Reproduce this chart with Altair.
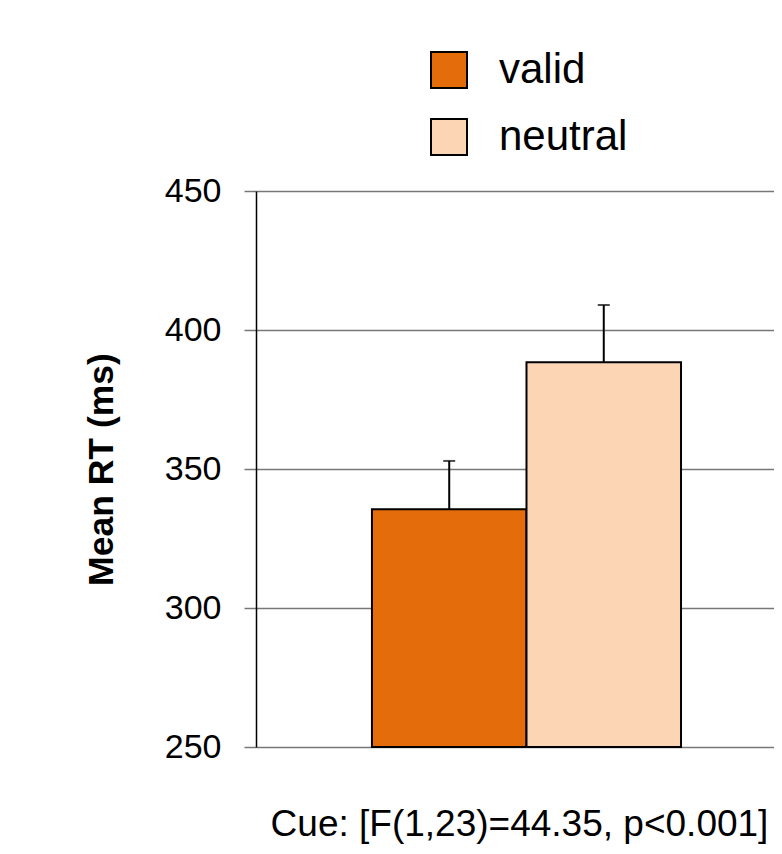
import altair as alt
import pandas as pd

# Data
conditions = ["valid", "neutral"]
mean_rt = [335.5, 388.4]
sem = [17.4, 20.6]
baseline = [250, 250]
colors = ["#E46C0A", "#FCD5B5"]
y_ticks = [250, 300, 350, 400, 450]

df = pd.DataFrame({
    "cue": conditions,
    "rt": mean_rt,
    "upper": [m + s for m, s in zip(mean_rt, sem)],
    "base": baseline,
})

FONT = "Liberation Sans"

x_enc = alt.X(
    "cue:N",
    sort=conditions,
    scale=alt.Scale(paddingInner=0, paddingOuter=0.676, align=0.555),
    axis=alt.Axis(
        title="Cue: [F(1,23)=44.35, p<0.001]",
        labels=False, ticks=False, domain=False, grid=False,
        titleFontSize=37, titleFontWeight="normal", titleFont=FONT,
        titleColor="black", titleBaseline="alphabetic", titleY=88,
        titleX=263,
    ),
)

y_scale = alt.Scale(domain=[250, 450], nice=False, zero=False)

bars = alt.Chart(df).mark_bar(stroke="black", strokeWidth=2).encode(
    x=x_enc,
    y=alt.Y(
        "rt:Q", scale=y_scale,
        axis=alt.Axis(
            values=y_ticks, title="Mean RT (ms)",
            titleFontSize=35.5, titleFontWeight="bold", titleFont=FONT,
            titleColor="black", titleBaseline="alphabetic", titleX=-144,
            labelFontSize=34, labelFont=FONT, labelColor="black",
            labelPadding=23, tickSize=12, tickColor="#777777", tickWidth=1.5,
            gridColor="#777777", gridWidth=1.5, gridOpacity=1,
            domainColor="black", domainWidth=1.5,
        ),
    ),
    y2="base:Q",
    color=alt.Color(
        "cue:N",
        sort=conditions,
        scale=alt.Scale(domain=conditions, range=colors),
        legend=alt.Legend(
            title=None, orient="none", legendX=172, legendY=-142,
            symbolType="square", symbolSize=1296, symbolStrokeColor="black",
            symbolStrokeWidth=2, symbolOpacity=1,
            labelFontSize=42, labelFont=FONT, labelColor="black",
            labelOffset=29, rowPadding=23, padding=0,
        ),
    ),
)

err_rule = alt.Chart(df).mark_rule(color="black", strokeWidth=2).encode(
    x=alt.X("cue:N", sort=conditions),
    y=alt.Y("rt:Q", scale=y_scale),
    y2="upper:Q",
)

err_cap = alt.Chart(df).mark_tick(color="black", thickness=2, size=12).encode(
    x=alt.X("cue:N", sort=conditions),
    y=alt.Y("upper:Q", scale=y_scale),
)

chart = alt.layer(bars, err_rule, err_cap).properties(
    width=518, height=556,
    autosize="none",
    padding={"left": 248, "top": 183, "right": 0, "bottom": 99},
).configure_view(stroke=None).configure(background="white")

chart.save("out.html", embed_options={"renderer": "svg", "actions": False})
